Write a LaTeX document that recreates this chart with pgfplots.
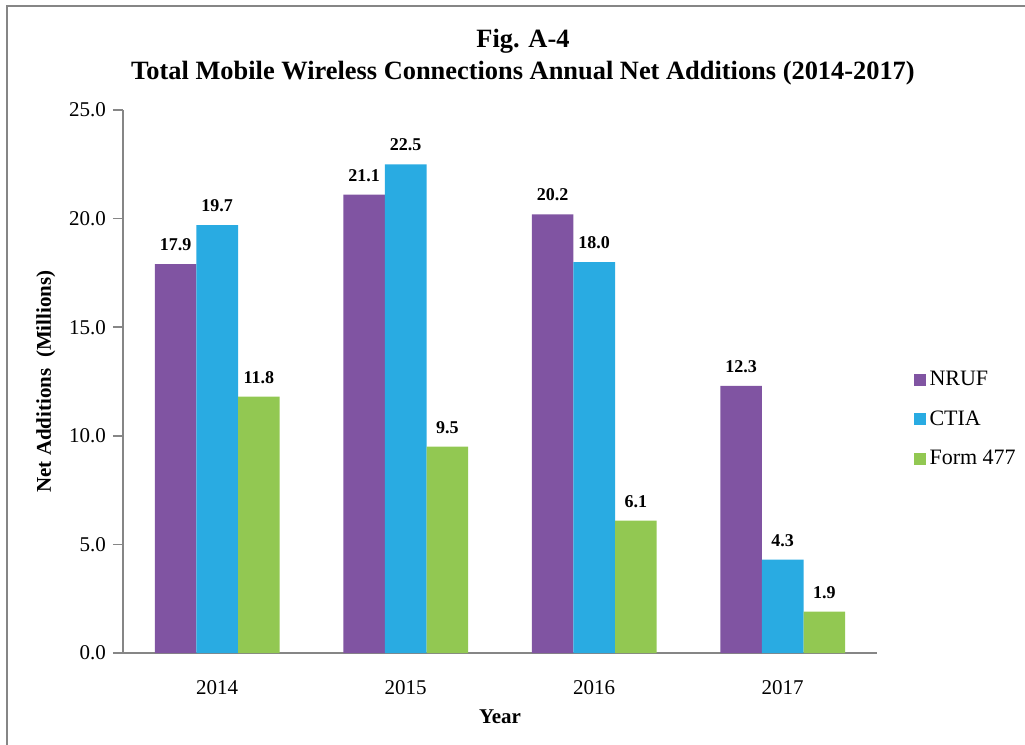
\documentclass[border=0pt]{standalone}
\usepackage{fontspec}
\setmainfont{Liberation Serif}
\usepackage{pgfplots}
\pgfplotsset{compat=1.18}

\definecolor{nruf}{RGB}{128,84,162}
\definecolor{ctia}{RGB}{41,171,226}
\definecolor{formc}{RGB}{146,200,82}
\definecolor{axgray}{RGB}{134,134,134}

\begin{document}
\begin{tikzpicture}[x=1pt,y=1pt]
  % page = 1025x745 px, 1px = 0.5pt
  \useasboundingbox (0,0) rectangle (512.5,-372.5);
  \draw[axgray, line width=1pt] (3.5,-372.5) -- (3.5,-3) -- (512.5,-3);

  \node[font=\bfseries\fontsize{13.2}{16}\selectfont, align=center] at (261.5,-28.5)
    {Fig. A-4\\Total Mobile Wireless Connections Annual Net Additions (2014-2017)};

  \begin{axis}[
      at={(61.5pt,-326.5pt)}, anchor=south west,
      scale only axis,
      width=377pt, height=271.5pt,
      ybar=0pt, bar width=0.221,
      xmin=-0.5, xmax=3.5,
      ymin=0, ymax=25,
      xtick={0,1,2,3},
      xticklabels={2014,2015,2016,2017},
      extra x ticks={-0.5,0.5,1.5,2.5,3.5},
      extra x tick labels={},
      extra x tick style={major tick length=5pt, tick align=outside,
        tick style={axgray, line width=0.8pt}},
      ytick={0,5,...,25},
      yticklabel style={/pgf/number format/.cd, fixed, fixed zerofill, precision=1},
      /pgf/number format/assume math mode=true,
      ticklabel style={font=\fontsize{10.5}{12}\selectfont},
      xticklabel style={yshift=-5pt},
      axis x line*=bottom, axis y line*=left,
      axis line style={axgray, line width=0.8pt},
      x axis line style={-}, y axis line style={-},
      x tick style={draw=none},
      y tick style={axgray, line width=0.8pt},
      major tick length=5pt, tick align=outside,
      xlabel={\bfseries Year},
      ylabel={\bfseries Net Additions\ \ (Millions)},
      label style={font=\fontsize{10.5}{12}\selectfont},
      xlabel style={yshift=9pt},
      nodes near coords,
      every node near coord/.append style={font=\bfseries\fontsize{9}{10}\selectfont,
        yshift=3pt, /pgf/number format/.cd, fixed, fixed zerofill, precision=1,
        assume math mode=true},
      legend style={draw=none, fill=none, at={(1.04,0.43)}, anchor=west,
        font=\fontsize{11}{13}\selectfont, row sep=7pt,
        /tikz/every even column/.append style={column sep=2pt}},
      legend cell align=left,
      legend image code/.code={\fill[#1] (0pt,-3pt) rectangle (6pt,3pt);},
    ]
    \addplot[fill=nruf, draw=none] coordinates {(0,17.9) (1,21.1) (2,20.2) (3,12.3)};
    \addlegendentry{NRUF}
    \addplot[fill=ctia, draw=none] coordinates {(0,19.7) (1,22.5) (2,18.0) (3,4.3)};
    \addlegendentry{CTIA}
    \addplot[fill=formc, draw=none] coordinates {(0,11.8) (1,9.5) (2,6.1) (3,1.9)};
    \addlegendentry{Form 477}
  \end{axis}
\end{tikzpicture}
\end{document}
